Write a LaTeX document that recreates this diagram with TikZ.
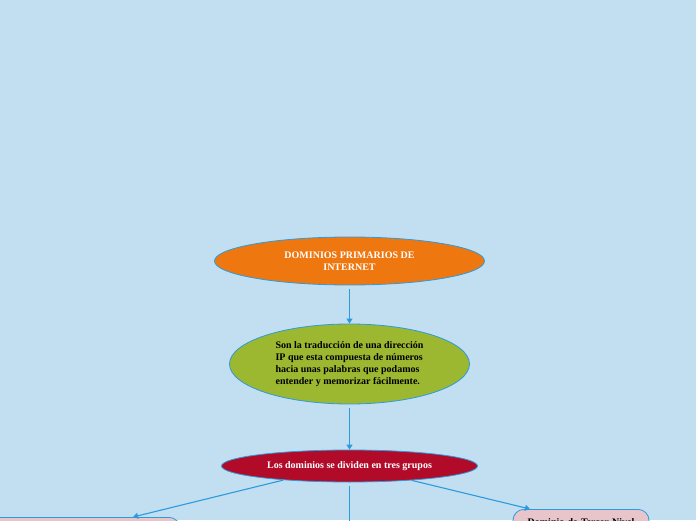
\documentclass[tikz,border=0pt]{standalone}
\usepackage{fontspec}
\setmainfont{Liberation Serif}
\usetikzlibrary{arrows.meta,shapes.geometric}
\definecolor{bgblue}{HTML}{C2DEF1}
\definecolor{lineblue}{HTML}{2C9BDD}
\definecolor{domorange}{HTML}{EF7710}
\definecolor{domgreen}{HTML}{9CB730}
\definecolor{domred}{HTML}{B10B29}
\definecolor{lvlpink}{HTML}{E7C5CB}
\begin{document}
\begin{tikzpicture}[x=1pt,y=1pt,
  oval/.style={ellipse,draw=lineblue,line width=0.8pt,inner sep=0pt,font=\fontsize{10}{12}\selectfont\bfseries},
  lvlbox/.style={rectangle,rounded corners=11pt,draw=lineblue,line width=0.8pt,fill=lvlpink,font=\fontsize{10}{12}\selectfont\bfseries},
  link/.style={draw=lineblue,line width=1.1pt,-{Triangle[length=5pt,width=6pt]}}]
\clip (0,0) rectangle (696,520);
\fill[bgblue] (0,0) rectangle (696,520);
\node[oval,fill=domorange,text=white,align=center,minimum width=270pt,minimum height=48pt] (dom1) at (349.5,259) {DOMINIOS PRIMARIOS DE\\INTERNET};
\node[oval,fill=domgreen,text=black,align=left,minimum width=240pt,minimum height=80pt] (dom2) at (349.5,156) {Son la traducción de una dirección\\IP que esta compuesta de números\\hacia unas palabras que podamos\\entender y memorizar fácilmente.};
\node[oval,fill=domred,text=white,minimum width=256pt,minimum height=32pt] (dom3) at (349.5,54) {Los dominios se dividen en tres grupos};
\node[lvlbox,anchor=north,minimum width=264pt,minimum height=40pt] (lvl1) at (48,3) {};
\node[lvlbox,anchor=north,text width=126pt,align=center,inner sep=5pt,minimum height=40pt] (lvl3) at (581,11) {Dominio de Tercer Nivel\\\strut};
\coordinate (lvl2) at (349.5,-12);
\draw[link,shorten <=4pt] (dom1) -- (dom2);
\draw[link,shorten <=4pt] (dom2) -- (dom3);
\draw[link] (dom3.192) -- ([xshift=85pt]lvl1.north);
\draw[link,shorten <=4pt] (dom3) -- (lvl2);
\draw[link] (dom3.347) -- ([xshift=-51pt]lvl3.north);
\end{tikzpicture}
\end{document}
